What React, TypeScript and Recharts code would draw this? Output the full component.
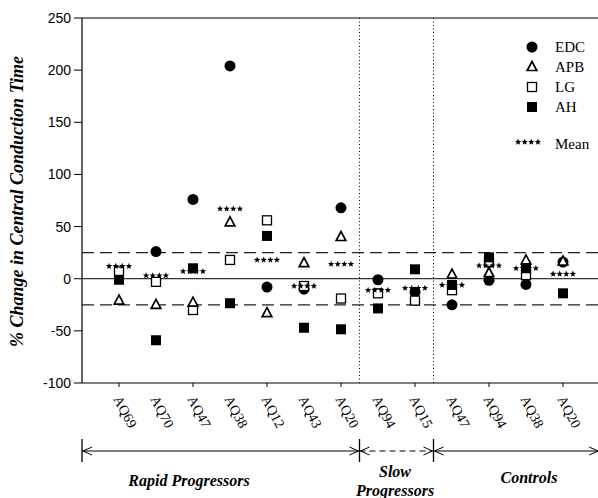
import React from 'react';
import { ScatterChart, Scatter, XAxis, YAxis, ReferenceLine, Legend } from 'recharts';

const categories = ['AQ69', 'AQ70', 'AQ47', 'AQ38', 'AQ12', 'AQ43', 'AQ20', 'AQ94', 'AQ15', 'AQ47', 'AQ94', 'AQ38', 'AQ20'];
const EDC: (number | null)[] = [null, 26, 76, 204, -8, -10, 68, -1, -13, -25, -1.5, -5.5, 16];
const APB: (number | null)[] = [-21, -25, -23, 54, -33, 15, 40, null, null, 4, 5.5, 17.5, 16.5];
const LG: (number | null)[] = [7, -3, -30, 18, 56, -7, -19, -14, -21, -11, 16, 3.5, null];
const AH: (number | null)[] = [-1, -59, 10, -23.5, 41, -47, -48.5, -28.5, 9, -6, 20.5, 10, -14];
const MEAN: (number | null)[] = [12, 3, 7, 67, 18, -7, 14, -11, -9, -6, 12.5, 10, 4.5];

const yTicks = [-100, -50, 0, 50, 100, 150, 200, 250];
const limitBand = [25, -25];
const groupBounds = [-1, 6.5, 8.5, 12.95];
const groupLabels = [['Rapid Progressors'], ['Slow', 'Progressors'], ['Controls']];
const legendItems = ['EDC', 'APB', 'LG', 'AH'];

const CHART_W = 600;
const CHART_H = 498;
const PLOT_LEFT = 82;
const PLOT_TOP = 18;
const PLOT_BOTTOM = 383;
const X_DOMAIN: [number, number] = [-1, 13];
const Y_DOMAIN: [number, number] = [-100, 250];

const SERIF = '"Liberation Serif", "Times New Roman", serif';
const SANS = '"Liberation Sans", Arial, sans-serif';

const toData = (vals: (number | null)[]) =>
  vals.map((v, i) => ({ x: i, y: v })).filter((d) => d.y !== null);

const Circle = (p: any) => <circle cx={p.cx} cy={p.cy} r={5.5} fill="#000" />;
const Tri = (p: any) => (
  <polygon
    points={`${p.cx},${p.cy - 5.5} ${p.cx - 4.8},${p.cy + 3.5} ${p.cx + 4.8},${p.cy + 3.5}`}
    fill="#fff"
    stroke="#000"
    strokeWidth={1.7}
    strokeLinejoin="miter"
  />
);
const OpenSq = (p: any) => (
  <rect x={p.cx - 4.5} y={p.cy - 4.5} width={9} height={9} fill="#fff" stroke="#000" strokeWidth={1.3} />
);
const FillSq = (p: any) => <rect x={p.cx - 5} y={p.cy - 5} width={10} height={10} fill="#000" />;

const starPoints = (cx: number, cy: number, R: number) => {
  const pts: string[] = [];
  for (let k = 0; k < 10; k++) {
    const r = k % 2 === 0 ? R : R * 0.42;
    const a = -Math.PI / 2 + (k * Math.PI) / 5;
    pts.push(`${(cx + r * Math.cos(a)).toFixed(2)},${(cy + r * Math.sin(a)).toFixed(2)}`);
  }
  return pts.join(' ');
};
const Stars = (p: any) => (
  <g>
    {[-1.5, -0.5, 0.5, 1.5].map((k) => (
      <polygon key={k} points={starPoints(p.cx + k * 6.6, p.cy, 3.4)} fill="#000" />
    ))}
  </g>
);

const symbolFor: Record<string, (p: any) => React.ReactElement> = {
  EDC: Circle,
  APB: Tri,
  LG: OpenSq,
  AH: FillSq,
};

const XTick = (props: any) => {
  const { x, y, payload } = props;
  const i = payload.value as number;
  const tx = x - 6;
  const ty = y + 16;
  return (
    <g>
      {i % 2 === 0 && <line x1={x} x2={x} y1={y} y2={y + 4} stroke="#000" strokeWidth={1} />}
      <text x={tx} y={ty} transform={`rotate(62 ${tx} ${ty})`} fontFamily={SERIF} fontSize={14} fill="#000">
        {categories[i]}
      </text>
    </g>
  );
};

const YLabel = (props: any) => {
  const vb = props.viewBox || { x: 0, y: PLOT_TOP, height: PLOT_BOTTOM - PLOT_TOP };
  const cx = 17;
  const cy = vb.y + vb.height / 2 + 1;
  return (
    <text
      x={cx}
      y={cy}
      transform={`rotate(-90 ${cx} ${cy})`}
      textAnchor="middle"
      dominantBaseline="central"
      fontFamily={SERIF}
      fontStyle="italic"
      fontWeight="bold"
      fontSize={18}
      fill="#000"
    >
      % Change in Central Conduction Time
    </text>
  );
};

const LegendContent = () => (
  <svg width={95} height={130} style={{ display: 'block' }}>
    {legendItems.map((name, k) => {
      const cy = 17 + k * 20;
      const Sym = symbolFor[name];
      return (
        <g key={name}>
          <Sym cx={17} cy={cy} />
          <text x={40} y={cy + 5} fontFamily={SERIF} fontSize={15} fill="#000">
            {name}
          </text>
        </g>
      );
    })}
    <Stars cx={13} cy={112} />
    <text x={40} y={119} fontFamily={SERIF} fontSize={15} fill="#000">
      Mean
    </text>
  </svg>
);

const xPix = (v: number) =>
  PLOT_LEFT + ((v - X_DOMAIN[0]) / (X_DOMAIN[1] - X_DOMAIN[0])) * (CHART_W - PLOT_LEFT);

const Arrow = ({ x, y, dir }: { x: number; y: number; dir: number }) => (
  <polyline
    points={`${x - dir * 9},${y - 4} ${x},${y} ${x - dir * 9},${y + 4}`}
    fill="none"
    stroke="#000"
    strokeWidth={1}
  />
);

const Brackets = () => {
  const ly = 451;
  const xs = groupBounds.map(xPix);
  const labelX = [189, 395, 529];
  return (
    <svg
      width={CHART_W}
      height={CHART_H}
      style={{ position: 'absolute', left: 0, top: 0, pointerEvents: 'none' }}
    >
      {xs.slice(0, 3).map((x, k) => (
        <line key={k} x1={x} x2={x} y1={439} y2={462} stroke="#000" strokeWidth={1.3} />
      ))}
      <line x1={xs[0]} x2={xs[1]} y1={ly} y2={ly} stroke="#000" strokeWidth={1} />
      <Arrow x={xs[0] + 1} y={ly} dir={-1} />
      <Arrow x={xs[1] - 1} y={ly} dir={1} />
      <line x1={xs[1]} x2={xs[2]} y1={ly} y2={ly} stroke="#000" strokeWidth={1} strokeDasharray="6 4" />
      <Arrow x={xs[1] + 1} y={ly} dir={-1} />
      <Arrow x={xs[2] - 1} y={ly} dir={1} />
      <line x1={xs[2]} x2={xs[3]} y1={ly} y2={ly} stroke="#000" strokeWidth={1} />
      <Arrow x={xs[2] + 1} y={ly} dir={-1} />
      <Arrow x={xs[3]} y={ly} dir={1} />
      <text x={labelX[0]} y={486} textAnchor="middle" fontFamily={SERIF} fontStyle="italic" fontWeight="bold" fontSize={16}>
        {groupLabels[0][0]}
      </text>
      <text x={labelX[1]} y={477} textAnchor="middle" fontFamily={SERIF} fontStyle="italic" fontWeight="bold" fontSize={16}>
        {groupLabels[1][0]}
      </text>
      <text x={labelX[1]} y={496} textAnchor="middle" fontFamily={SERIF} fontStyle="italic" fontWeight="bold" fontSize={16}>
        {groupLabels[1][1]}
      </text>
      <text x={labelX[2]} y={483} textAnchor="middle" fontFamily={SERIF} fontStyle="italic" fontWeight="bold" fontSize={16}>
        {groupLabels[2][0]}
      </text>
    </svg>
  );
};

export default function App() {
  return (
    <div style={{ position: 'absolute', left: 0, top: 0, width: CHART_W, height: CHART_H, background: '#fff' }}>
      <ScatterChart
        width={CHART_W}
        height={CHART_H}
        margin={{ top: PLOT_TOP, right: 0, bottom: 0, left: 0 }}
      >
        <XAxis
          type="number"
          dataKey="x"
          domain={X_DOMAIN}
          ticks={categories.map((_, i) => i)}
          interval={0}
          height={CHART_H - PLOT_BOTTOM}
          tickLine={false}
          tickSize={0}
          tickMargin={0}
          tick={<XTick />}
          axisLine={{ stroke: '#000', strokeWidth: 1.2 }}
          allowDataOverflow
        />
        <YAxis
          type="number"
          dataKey="y"
          domain={Y_DOMAIN}
          ticks={yTicks}
          interval={0}
          width={PLOT_LEFT}
          tickSize={8}
          tickMargin={3}
          tickLine={{ stroke: '#000' }}
          axisLine={{ stroke: '#000', strokeWidth: 1.2 }}
          tick={{ fill: '#000', fontSize: 14, fontFamily: SANS }}
          label={<YLabel />}
          allowDataOverflow
        />
        <ReferenceLine y={Y_DOMAIN[1]} stroke="#000" strokeWidth={1.2} ifOverflow="extendDomain" />
        <ReferenceLine y={0} stroke="#000" strokeWidth={1} />
        {limitBand.map((v) => (
          <ReferenceLine key={v} y={v} stroke="#222" strokeWidth={1.2} strokeDasharray="12 6" />
        ))}
        {groupBounds.slice(1, 3).map((v) => (
          <ReferenceLine key={v} x={v} stroke="#000" strokeWidth={1} strokeDasharray="1 2.5" />
        ))}
        <Scatter name="EDC" data={toData(EDC)} shape={Circle} isAnimationActive={false} />
        <Scatter name="LG" data={toData(LG)} shape={OpenSq} isAnimationActive={false} />
        <Scatter name="AH" data={toData(AH)} shape={FillSq} isAnimationActive={false} />
        <Scatter name="APB" data={toData(APB)} shape={Tri} isAnimationActive={false} />
        <Scatter name="Mean" data={toData(MEAN)} shape={Stars} isAnimationActive={false} />
        <Legend
          layout="horizontal"
          verticalAlign="middle"
          align="center"
          content={<LegendContent />}
          wrapperStyle={{ position: 'absolute', left: 515, top: 30, width: 95, height: 130 }}
        />
      </ScatterChart>
      <Brackets />
    </div>
  );
}
